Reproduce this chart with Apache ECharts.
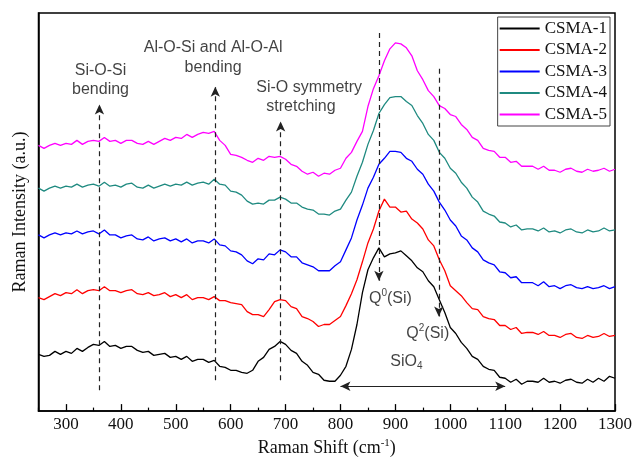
<!DOCTYPE html>
<html>
<head>
<meta charset="utf-8">
<script src="https://cdn.jsdelivr.net/npm/echarts@6/dist/echarts.min.js"></script>
<style>
  html, body { margin: 0; padding: 0; background: #fff; }
  #chart { width: 635px; height: 462px; }
</style>
</head>
<body>
<div id="chart"></div>
<script>
// Raman shift positions (cm-1)
const ramanShift = [
  250, 260, 270, 280, 290, 300, 310, 320, 330, 340, 350, 360, 370, 380, 390, 400, 410, 420, 430, 440,
  450, 460, 470, 480, 490, 500, 510, 520, 530, 540, 550, 560, 570, 580, 590, 600, 610, 620, 630, 640,
  650, 660, 670, 680, 690, 700, 710, 720, 730, 740, 750, 760, 770, 780, 790, 800, 810, 820, 830, 840,
  850, 860, 870, 880, 890, 900, 910, 920, 930, 940, 950, 960, 970, 980, 990, 1000, 1010, 1020, 1030, 1040,
  1050, 1060, 1070, 1080, 1090, 1100, 1110, 1120, 1130, 1140, 1150, 1160, 1170, 1180, 1190, 1200, 1210, 1220, 1230, 1240,
  1250, 1260, 1270, 1280, 1290, 1300
];

// Stacked (offset) Raman intensities, a.u.
const csma1 = [
  57, 55, 56, 60, 57, 60, 58, 63, 60, 64, 67, 66, 70, 65, 66, 63, 65, 65, 61, 59,
  60, 56, 57, 58, 54, 55, 52, 55, 50, 52, 52, 49, 51, 45, 44, 41, 41, 39, 38, 41,
  50, 54, 62, 65, 70, 67, 61, 58, 50, 46, 39, 37, 31, 30, 30, 36, 45, 62, 87, 119,
  142, 154, 164, 155, 158, 159, 161, 156, 151, 144, 140, 131, 125, 112, 99, 84, 78, 69, 63, 55,
  52, 45, 42, 41, 34, 33, 29, 32, 27, 30, 30, 29, 33, 29, 30, 28, 31, 32, 29, 28,
  32, 29, 33, 30, 35, 33
];
const csma2 = [
  114, 112, 115, 118, 116, 119, 118, 122, 118, 121, 122, 121, 125, 121, 121, 119, 121, 122, 118, 117,
  119, 116, 117, 119, 115, 117, 114, 117, 112, 114, 114, 112, 115, 111, 111, 109, 108, 107, 100, 97,
  97, 95, 102, 110, 112, 111, 105, 103, 95, 93, 90, 85, 87, 87, 91, 95, 106, 118, 132, 150,
  169, 183, 201, 213, 205, 205, 200, 201, 193, 189, 183, 172, 166, 152, 141, 126, 121, 116, 109, 103,
  102, 95, 93, 92, 86, 86, 82, 84, 78, 79, 79, 77, 80, 76, 76, 74, 77, 78, 74, 73,
  76, 74, 75, 78, 75, 76
];
const csma3 = [
  177, 174, 177, 179, 177, 179, 178, 181, 178, 180, 181, 178, 182, 177, 177, 174, 176, 177, 173, 172,
  175, 171, 173, 174, 171, 173, 170, 173, 169, 171, 171, 169, 173, 167, 166, 161, 160, 157, 151, 148,
  153, 152, 158, 157, 162, 160, 155, 155, 149, 147, 145, 141, 141, 141, 146, 150, 162, 174, 192, 207,
  224, 235, 248, 254, 261, 261, 260, 254, 251, 243, 238, 228, 221, 210, 202, 192, 186, 176, 172, 164,
  160, 152, 149, 147, 140, 139, 134, 135, 129, 129, 129, 126, 130, 125, 126, 123, 126, 127, 124, 123,
  125, 123, 124, 126, 123, 125
];
const csma4 = [
  224, 221, 224, 226, 224, 226, 225, 228, 225, 227, 228, 226, 230, 226, 227, 225, 228, 229, 225, 224,
  227, 224, 226, 228, 226, 228, 227, 230, 227, 229, 230, 228, 233, 228, 227, 221, 220, 217, 211, 208,
  209, 208, 212, 212, 215, 213, 209, 209, 205, 203, 202, 198, 198, 197, 201, 203, 212, 220, 236, 250,
  268, 282, 299, 308, 315, 316, 316, 311, 307, 297, 289, 278, 272, 260, 254, 244, 239, 230, 224, 215,
  210, 201, 198, 196, 190, 189, 185, 187, 182, 183, 183, 181, 184, 180, 181, 179, 182, 183, 180, 179,
  182, 180, 181, 184, 181, 182
];
const csma5 = [
  267, 264, 267, 269, 267, 269, 268, 272, 268, 271, 272, 271, 275, 271, 272, 269, 272, 272, 269, 268,
  271, 268, 271, 274, 272, 275, 274, 278, 275, 278, 280, 279, 281, 272, 267, 258, 257, 255, 252, 250,
  254, 252, 256, 255, 256, 253, 248, 246, 241, 238, 240, 236, 239, 238, 242, 244, 254, 260, 271, 281,
  306, 324, 337, 352, 364, 370, 369, 365, 357, 342, 333, 322, 316, 307, 304, 298, 296, 288, 283, 275,
  272, 264, 262, 261, 255, 255, 250, 251, 246, 246, 246, 243, 246, 242, 242, 240, 243, 244, 241, 240,
  243, 241, 242, 244, 241, 243
];

const seriesNames = ['CSMA-1', 'CSMA-2', 'CSMA-3', 'CSMA-4', 'CSMA-5'];
const seriesColors = ['#000000', '#ff0000', '#0000ff', '#1f8a80', '#ff00ff'];

// Axis tick labels
const majorTicks = [300, 400, 500, 600, 700, 800, 900, 1000, 1100, 1200, 1300];
const minorTicks = [250, 350, 450, 550, 650, 750, 850, 950, 1050, 1150, 1250];

// Band assignments: [shift, y bottom, y top]
const upArrows = [[361, 21, 308], [572, 31, 326], [691, 31, 291]];
// Structural units: [shift, y start, y end]
const downArrows = [[870, 380, 131], [979, 344, 95]];
// SiO4 band range: [from, to, y]
const sio4Range = [800, 1100, 25];

// Annotation texts: [shift, y, text]
const notes = [
  [363, 342, 'Si-O-Si'],
  [363, 323, 'bending'],
  [568, 365, 'Al-O-Si and Al-O-Al'],
  [568, 345, 'bending'],
  [743, 325, 'Si-O symmetry'],
  [728, 306, 'stretching'],
  [891, 113, '{t|Q}{p|0}{t|(Si)}'],
  [959, 78, '{t|Q}{p|2}{t|(Si)}'],
  [920, 50, '{t|SiO}{b|4}']
];

const seriesData = [csma1, csma2, csma3, csma4, csma5];

const chart = echarts.init(document.getElementById('chart'), null, { renderer: 'canvas' });

const serif = 'Liberation Serif, Times New Roman, serif';
const sans = 'Liberation Sans, Arial, sans-serif';

const lineSeries = seriesData.map((vals, i) => ({
  name: seriesNames[i],
  type: 'line',
  data: ramanShift.map((x, k) => [x, vals[k]]),
  symbol: 'none',
  lineStyle: { color: seriesColors[i], width: 1.3 },
  itemStyle: { color: seriesColors[i] },
  z: 3
}));

const arrowLines = [];
upArrows.forEach(a => arrowLines.push([
  { coord: [a[0], a[1]], symbol: 'none' },
  { coord: [a[0], a[2]], symbol: 'arrow' }
]));
downArrows.forEach(a => arrowLines.push([
  { coord: [a[0], a[1]], symbol: 'none' },
  { coord: [a[0], a[2]], symbol: 'arrow' }
]));

const noteSeries = {
  name: 'notes',
  type: 'scatter',
  symbolSize: 0,
  silent: true,
  z: 5,
  data: notes.map(n => ({ value: [n[0], n[1]], label: { formatter: n[2] } })),
  label: {
    show: true,
    position: 'inside',
    color: '#111',
    fontFamily: sans,
    fontSize: 16,
    rich: {
      t: { fontFamily: sans, fontSize: 16, color: '#111' },
      p: { fontFamily: sans, fontSize: 10, color: '#111', padding: [0, 0, 10, 0] },
      b: { fontFamily: sans, fontSize: 10, color: '#111', padding: [9, 0, 0, 0] }
    }
  },
  markLine: {
    silent: true,
    symbolSize: [7, 10],
    label: { show: false },
    lineStyle: { color: '#222', width: 1.2, type: [5, 4] },
    emphasis: { disabled: true },
    data: arrowLines.concat([[
      { coord: [sio4Range[0], sio4Range[2]], symbol: 'arrow', lineStyle: { type: 'solid', width: 1 } },
      { coord: [sio4Range[1], sio4Range[2]], symbol: 'arrow' }
    ]])
  }
};

chart.setOption({
  animation: false,
  backgroundColor: '#fff',
  grid: {
    left: 38.5, right: 18, top: 13, bottom: 49,
    show: true, borderColor: '#000', borderWidth: 1.5, backgroundColor: 'transparent'
  },
  legend: {
    data: seriesNames.map(n => ({ name: n, icon: 'rect' })),
    orient: 'vertical',
    right: 25,
    top: 17,
    padding: [3, 3, 3, 2],
    itemGap: 4.5,
    itemWidth: 40,
    itemHeight: 2,
    borderColor: '#444',
    borderWidth: 1,
    backgroundColor: '#fff',
    textStyle: { fontFamily: serif, fontSize: 17, color: '#111', lineHeight: 17, padding: [0, 0, 0, 0] }
  },
  xAxis: [{
    type: 'value',
    min: 250,
    max: 1300,
    name: '{t|Raman Shift (cm}{s|-1}{t|)}',
    nameLocation: 'middle',
    nameGap: 26,
    nameTextStyle: {
      rich: {
        t: { fontFamily: serif, fontSize: 18, color: '#111' },
        s: { fontFamily: serif, fontSize: 11, color: '#111', padding: [0, 0, 9, 0] }
      }
    },
    axisLine: { show: true, lineStyle: { color: '#000', width: 1.5 } },
    axisTick: { show: true, inside: true, length: 7, customValues: majorTicks, lineStyle: { color: '#000', width: 1.3 } },
    axisLabel: {
      show: true, customValues: majorTicks, margin: 5, fontFamily: serif, fontSize: 17, color: '#111',
      formatter: v => String(v)
    },
    splitLine: { show: false }
  }, {
    type: 'value',
    min: 250,
    max: 1300,
    position: 'bottom',
    axisLine: { show: false },
    axisTick: { show: true, inside: true, length: 3.5, customValues: minorTicks, lineStyle: { color: '#000', width: 1.2 } },
    axisLabel: { show: false },
    splitLine: { show: false }
  }],
  yAxis: {
    type: 'value',
    min: 0,
    max: 400,
    name: 'Raman Intensity (a.u.)',
    nameLocation: 'middle',
    nameRotate: 90,
    nameGap: 9,
    nameTextStyle: { fontFamily: serif, fontSize: 18, color: '#111' },
    axisLine: { show: true, lineStyle: { color: '#000', width: 1.5 } },
    axisTick: { show: false },
    axisLabel: { show: false },
    splitLine: { show: false }
  },
  series: lineSeries.concat([noteSeries])
});
</script>
</body>
</html>
